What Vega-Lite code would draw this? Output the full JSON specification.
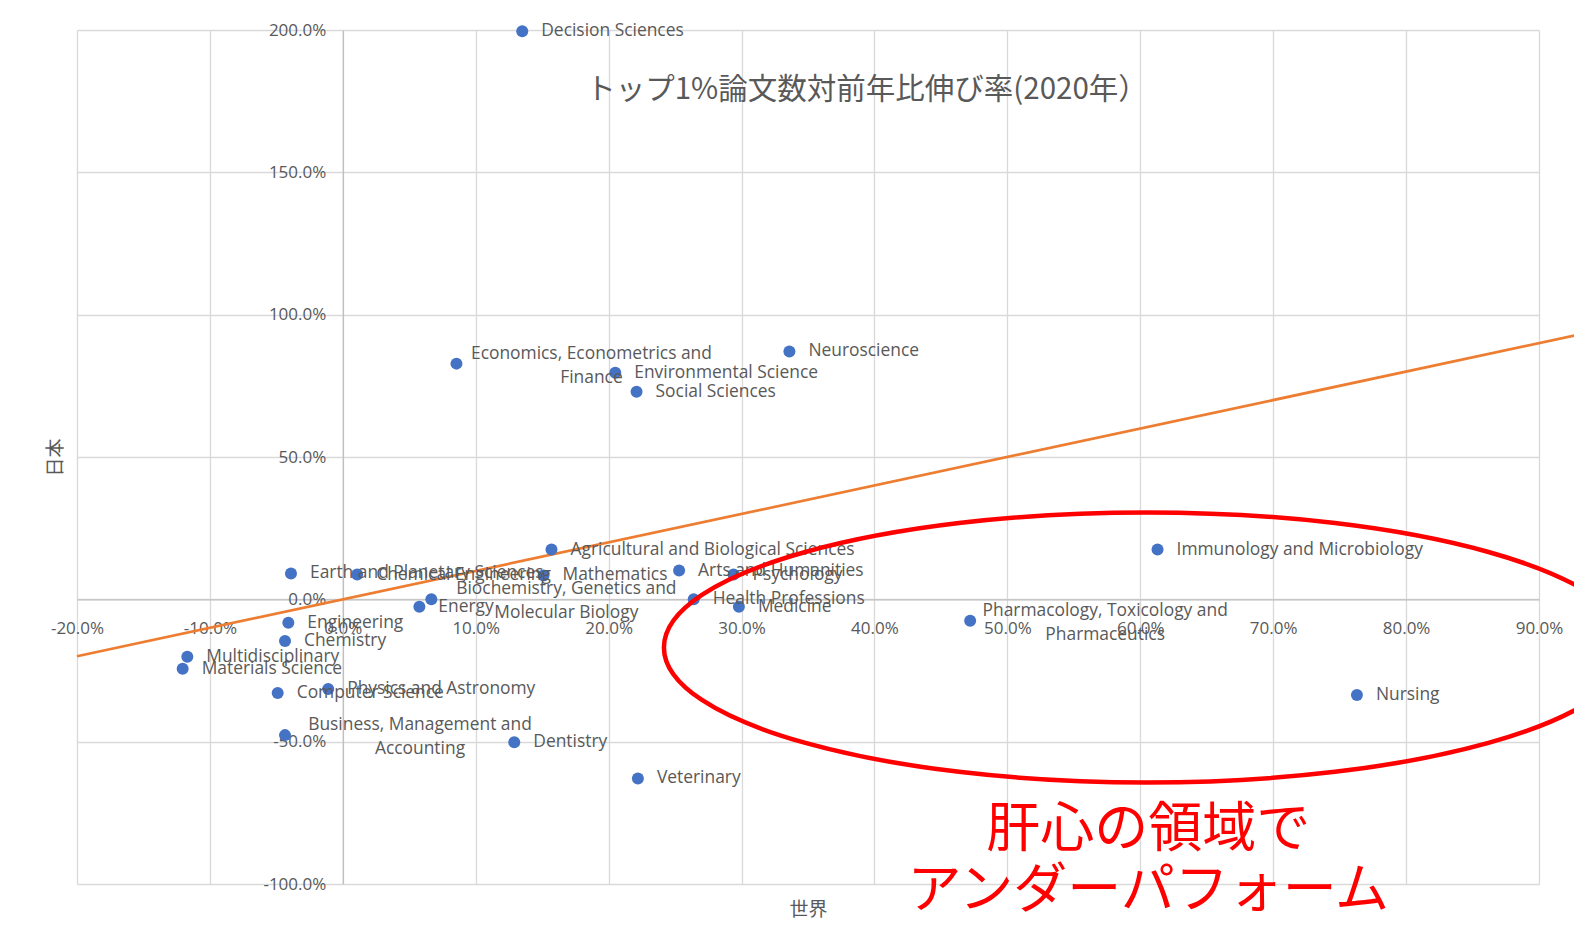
{
  "$schema": "https://vega.github.io/schema/vega-lite/v6.json",
  "width": 1462,
  "height": 854,
  "autosize": {"type": "none"},
  "padding": {"left": 77, "top": 30, "right": 35, "bottom": 64},
  "background": "white",
  "config": {"view": {"stroke": null}, "font": "Open Sans"},
  "title": {
    "text": "トップ1%論文数対前年比伸び率(2020年）",
    "font": "Noto Sans CJK JP",
    "fontSize": 29.5,
    "fontWeight": "normal",
    "color": "#595959",
    "anchor": "middle",
    "frame": "group",
    "baseline": "middle",
    "offset": 0,
    "dx": 59,
    "dy": 98
  },
  "datasets": {
    "fields": [
      {"label": "Decision Sciences", "x": 0.135, "y": 1.996},
      {"label": "Economics, Econometrics and\nFinance", "x": 0.0855, "y": 0.828},
      {"label": "Neuroscience", "x": 0.336, "y": 0.871},
      {"label": "Environmental Science", "x": 0.205, "y": 0.796},
      {"label": "Social Sciences", "x": 0.221, "y": 0.729},
      {"label": "Agricultural and Biological Sciences", "x": 0.157, "y": 0.175},
      {"label": "Immunology and Microbiology", "x": 0.613, "y": 0.175},
      {"label": "Earth and Planetary Sciences", "x": -0.039, "y": 0.091},
      {"label": "Chemical Engineering", "x": 0.0108, "y": 0.087},
      {"label": "Mathematics", "x": 0.151, "y": 0.084},
      {"label": "Arts and Humanities", "x": 0.253, "y": 0.101},
      {"label": "Psychology", "x": 0.294, "y": 0.087},
      {"label": "Biochemistry, Genetics and\nMolecular Biology", "x": 0.0666, "y": 0.0},
      {"label": "Energy", "x": 0.0576, "y": -0.026},
      {"label": "Health Professions", "x": 0.264, "y": 0.0},
      {"label": "Medicine", "x": 0.298, "y": -0.026},
      {"label": "Pharmacology, Toxicology and\nPharmaceutics", "x": 0.472, "y": -0.075},
      {"label": "Engineering", "x": -0.041, "y": -0.082},
      {"label": "Chemistry", "x": -0.0435, "y": -0.146},
      {"label": "Multidisciplinary", "x": -0.117, "y": -0.202},
      {"label": "Materials Science", "x": -0.1205, "y": -0.244},
      {"label": "Physics and Astronomy", "x": -0.011, "y": -0.315},
      {"label": "Computer Science", "x": -0.049, "y": -0.329},
      {"label": "Business, Management and\nAccounting", "x": -0.0435, "y": -0.477},
      {"label": "Dentistry", "x": 0.129, "y": -0.502},
      {"label": "Veterinary", "x": 0.222, "y": -0.629},
      {"label": "Nursing", "x": 0.763, "y": -0.336}
    ],
    "diag": [{"x": -0.2, "y": -0.2}, {"x": 1.0, "y": 1.0}],
    "ellipse": [{"x": 0.605, "y": -0.169}],
    "note": [{"x": 0.606, "y": -0.814, "text": "肝心の領域で\nアンダーパフォーム"}]
  },
  "encoding": {
    "x": {
      "field": "x",
      "type": "quantitative",
      "scale": {"domain": [-0.2, 0.9], "nice": false, "zero": false},
      "axis": {
        "title": "世界",
        "values": [-0.2, -0.1, 0, 0.1, 0.2, 0.3, 0.4, 0.5, 0.6, 0.7, 0.8, 0.9],
        "labelExpr": "replace(format(datum.value, '.1%'), '\u2212', '-')",
        "offset": -284.7,
        "grid": true,
        "gridColor": "#d9d9d9",
        "gridWidth": 1.3,
        "domainColor": "#bfbfbf",
        "domainWidth": 1.3,
        "ticks": false,
        "labelFont": "Open Sans",
        "labelFontSize": 17,
        "labelColor": "#595959",
        "labelPadding": 21,
        "labelFlush": false,
        "labelOverlap": false,
        "titleFont": "Noto Sans CJK JP",
        "titleFontSize": 19,
        "titleFontWeight": "normal",
        "titleColor": "#595959",
        "titleY": 310,
        "titleBaseline": "middle"
      }
    },
    "y": {
      "field": "y",
      "type": "quantitative",
      "scale": {"domain": [-1, 2], "nice": false, "zero": false},
      "axis": {
        "title": "日本",
        "values": [-1, -0.5, 0, 0.5, 1, 1.5, 2],
        "labelExpr": "replace(format(datum.value, '.1%'), '\u2212', '-')",
        "offset": -265.8,
        "grid": true,
        "gridColor": "#d9d9d9",
        "gridWidth": 1.3,
        "domainColor": "#bfbfbf",
        "domainWidth": 1.3,
        "ticks": false,
        "labelFont": "Open Sans",
        "labelFontSize": 17,
        "labelColor": "#595959",
        "labelPadding": 17,
        "labelFlush": false,
        "labelOverlap": false,
        "titleFont": "Noto Sans CJK JP",
        "titleFontSize": 19,
        "titleFontWeight": "normal",
        "titleColor": "#595959",
        "titleX": -287,
        "titleBaseline": "middle"
      }
    }
  },
  "layer": [
    {
      "data": {"name": "diag"},
      "mark": {"type": "line", "color": "#ED7D31", "strokeWidth": 2.7, "clip": false}
    },
    {
      "data": {"name": "fields"},
      "mark": {"type": "circle", "size": 144, "color": "#4472C4", "opacity": 1}
    },
    {
      "data": {"name": "fields"},
      "transform": [{"filter": "indexof(datum.label, '\\n') < 0"}],
      "mark": {"type": "text", "align": "left", "baseline": "middle", "dx": 19, "fontSize": 17.4, "font": "Open Sans", "color": "#595959"},
      "encoding": {"text": {"field": "label"}}
    },
    {
      "data": {"name": "fields"},
      "transform": [{"filter": "indexof(datum.label, '\\n') >= 0"}],
      "mark": {"type": "text", "align": "center", "baseline": "middle", "dx": 135, "dy": -10, "fontSize": 17.4, "font": "Open Sans", "color": "#595959", "lineBreak": "\n", "lineHeight": 24},
      "encoding": {"text": {"field": "label"}}
    },
    {
      "data": {"name": "ellipse"},
      "mark": {
        "type": "point",
        "shape": "M-1,0C-1,-0.1544,-0.5523,-0.2795,0,-0.2795C0.5523,-0.2795,1,-0.1544,1,0C1,0.1544,0.5523,0.2795,0,0.2795C-0.5523,0.2795,-1,0.1544,-1,0Z",
        "size": 933156,
        "filled": false,
        "stroke": "#FF0000",
        "strokeWidth": 4.5,
        "opacity": 1,
        "clip": false
      }
    },
    {
      "data": {"name": "note"},
      "mark": {"type": "text", "align": "center", "baseline": "middle", "font": "Noto Sans CJK JP", "fontSize": 54, "color": "#FF0000", "lineBreak": "\n", "lineHeight": 61, "clip": false},
      "encoding": {"text": {"field": "text"}}
    }
  ]
}
